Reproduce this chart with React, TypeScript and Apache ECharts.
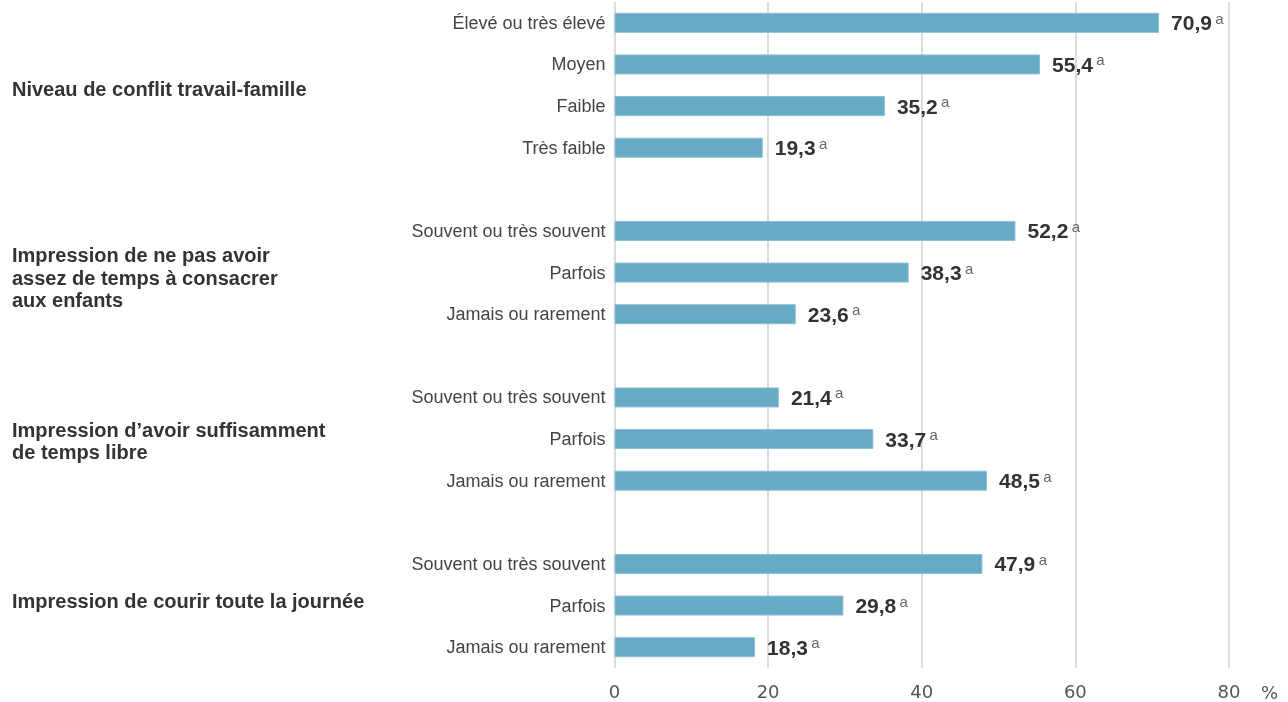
import React, { useEffect, useRef } from "react";
import * as echarts from "echarts";

const categories: string[] = [
  "Élevé ou très élevé",
  "Moyen",
  "Faible",
  "Très faible",
  "",
  "Souvent ou très souvent",
  "Parfois",
  "Jamais ou rarement",
  "",
  "Souvent ou très souvent",
  "Parfois",
  "Jamais ou rarement",
  "",
  "Souvent ou très souvent",
  "Parfois",
  "Jamais ou rarement",
];

const values: (number | null)[] = [
  70.9, 55.4, 35.2, 19.3, null, 52.2, 38.3, 23.6, null, 21.4, 33.7, 48.5, null, 47.9, 29.8, 18.3,
];

const superscripts: string[] = [
  "a", "a", "a", "a", "", "a", "a", "a", "", "a", "a", "a", "", "a", "a", "a",
];

const groupLabels: string[] = [
  "Niveau de conflit travail-famille",
  "Impression de ne pas avoir\nassez de temps à consacrer\naux enfants",
  "Impression d’avoir suffisamment\nde temps libre",
  "Impression de courir toute la journée",
];
// category positions (index, can be fractional) where the group label is centred
const groupCenters: number[] = [1.59, 6.13, 10.05, 13.9];

const xTicks = { min: 0, max: 80, interval: 20 };

const FONT = "'Liberation Sans', Arial, Helvetica, sans-serif";
const AXIS_FONT = "'DejaVu Sans', 'Liberation Sans', sans-serif";

export default function App() {
  const ref = useRef<HTMLDivElement>(null);
  useEffect(() => {
    if (!ref.current) return;
    const chart = echarts.init(ref.current, undefined, { renderer: "svg" });
    chart.setOption({
      animation: false,
      textStyle: { fontFamily: FONT },
      grid: {
        left: 614.5,
        right: 59,
        top: 2,
        bottom: 34,
        containLabel: false,
        outerBoundsMode: "none",
      },
      xAxis: {
        type: "value",
        min: xTicks.min,
        max: xTicks.max,
        interval: xTicks.interval,
        name: "%",
        nameLocation: "end",
        nameGap: 32,
        nameTextStyle: {
          fontSize: 18,
          color: "#555",
          fontFamily: AXIS_FONT,
          verticalAlign: "top",
          padding: [15, 0, 0, 0],
        },
        axisLine: { show: false },
        axisTick: { show: false },
        axisLabel: { fontSize: 18, color: "#555", margin: 14, fontFamily: AXIS_FONT },
        splitLine: { show: true, lineStyle: { color: "#dcdcdc", width: 2 } },
      },
      yAxis: {
        type: "category",
        inverse: true,
        data: categories,
        axisLine: { show: false },
        axisTick: { show: false },
        axisLabel: { fontSize: 18, color: "#444", margin: 9 },
      },
      series: [
        {
          type: "bar",
          data: values.map((v, i) => ({
            value: v,
            label: {
              show: v !== null,
              position: "right",
              distance: 12,
              formatter: () =>
                v === null
                  ? ""
                  : `{v|${v.toFixed(1).replace(".", ",")}} {s|${superscripts[i]}}`,
              rich: {
                v: {
                  fontSize: 21,
                  fontWeight: "bold",
                  color: "#333",
                  fontFamily: FONT,
                },
                s: {
                  fontSize: 15,
                  color: "#666",
                  fontFamily: FONT,
                  padding: [0, 0, 9, 0],
                },
              },
            },
          })),
          barWidth: 20,
          itemStyle: { color: "#66aac4", borderColor: "#8cc0d4", borderWidth: 1 },
        },
      ],
    });
    const y0 = chart.convertToPixel({ yAxisIndex: 0 }, 0) as number;
    const y1 = chart.convertToPixel({ yAxisIndex: 0 }, 1) as number;
    const step = y1 - y0;
    const gfx = groupLabels.map((t, i) => {
      const c = groupCenters[i];
      const base = Math.floor(c);
      const y =
        (chart.convertToPixel({ yAxisIndex: 0 }, base) as number) + (c - base) * step;
      return {
        type: "text",
        x: 12,
        y: y,
        style: {
          text: t,
          font: `bold 20px ${FONT}`,
          fill: "#333",
          lineHeight: 22.5,
          verticalAlign: "middle",
          align: "left",
        },
      };
    });
    chart.setOption({ graphic: gfx });
    return () => chart.dispose();
  }, []);
  return (
    <div
      ref={ref}
      style={{ position: "fixed", left: 0, top: 0, width: 1288, height: 702 }}
    />
  );
}
